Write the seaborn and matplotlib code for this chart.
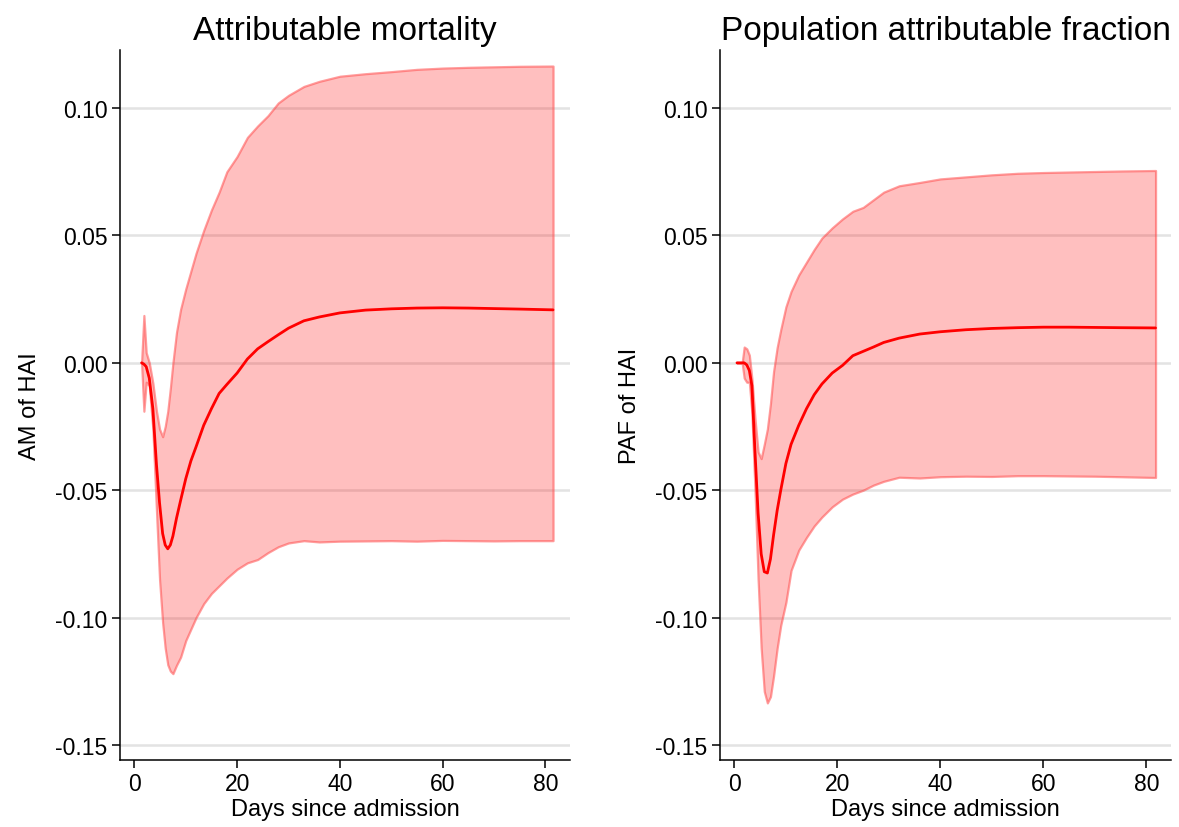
import numpy as np
import pandas as pd
import matplotlib
matplotlib.use("Agg")
import matplotlib.pyplot as plt
import seaborn as sns

# ---------------- data ----------------
am_days = [1.4, 1.85, 2.3, 2.9, 3.6, 4.3, 4.9, 5.5, 6.0, 6.5, 7.0, 7.5, 8.2, 9.0, 10.0,
           11.0, 12.0, 13.5, 15, 16.5, 18, 20, 22, 24, 26, 28, 30, 33, 36, 40, 45, 50,
           55, 60, 65, 70, 75, 81.5]
am_mean = [0.0, -0.0005, -0.0015, -0.006, -0.018, -0.040, -0.055, -0.067, -0.0715, -0.073,
           -0.0715, -0.068, -0.061, -0.054, -0.0455, -0.0385, -0.033, -0.0245, -0.018,
           -0.012, -0.0085, -0.004, 0.0015, 0.0055, 0.0083, 0.011, 0.0136, 0.0165, 0.0180,
           0.0196, 0.0207, 0.0212, 0.0215, 0.0216, 0.0215, 0.0213, 0.0211, 0.0208]
am_upper = [0.0, 0.0186, 0.004, 0.000, -0.008, -0.019, -0.026, -0.029, -0.025, -0.019,
            -0.010, 0.000, 0.012, 0.021, 0.029, 0.036, 0.043, 0.052, 0.060, 0.067, 0.075,
            0.081, 0.0885, 0.093, 0.097, 0.102, 0.105, 0.1085, 0.1105, 0.1125, 0.1135,
            0.1143, 0.1152, 0.1157, 0.1160, 0.1162, 0.1164, 0.1165]
am_lower = [0.0, -0.019, -0.0076, -0.009, -0.026, -0.058, -0.085, -0.102, -0.112, -0.1185,
            -0.121, -0.122, -0.1187, -0.1155, -0.109, -0.1045, -0.100, -0.0945, -0.0905,
            -0.0875, -0.0845, -0.081, -0.0785, -0.0772, -0.0745, -0.0722, -0.0707, -0.0698,
            -0.0703, -0.0700, -0.0699, -0.0698, -0.0700, -0.0697, -0.0698, -0.0699, -0.0698,
            -0.0698]

paf_days = [0.5, 1.5, 1.9, 2.4, 2.9, 3.4, 4.0, 4.6, 5.2, 5.8, 6.4, 7.0, 7.6, 8.3, 9.0,
            10.0, 11.0, 12.5, 14, 15.5, 17, 19, 21, 23, 25, 27, 29, 32, 36, 40, 45, 50,
            55, 60, 65, 70, 75, 81.8]
paf_mean = [0.0, 0.0, 0.0, -0.0008, -0.003, -0.009, -0.035, -0.059, -0.075, -0.082,
            -0.0825, -0.077, -0.0677, -0.058, -0.050, -0.0395, -0.032, -0.0245, -0.018,
            -0.0125, -0.0083, -0.004, -0.001, 0.0028, 0.0045, 0.0062, 0.0080, 0.0097,
            0.0113, 0.0122, 0.0130, 0.0135, 0.0138, 0.0140, 0.0140, 0.0139, 0.0138, 0.0137]
paf_upper = [0.0, 0.0, 0.0062, 0.0055, 0.003, -0.0063, -0.022, -0.035, -0.0376, -0.032,
             -0.026, -0.016, -0.0035, 0.006, 0.013, 0.022, 0.028, 0.0345, 0.0395, 0.0445,
             0.049, 0.053, 0.0565, 0.0595, 0.061, 0.064, 0.067, 0.0695, 0.0708, 0.0722,
             0.0730, 0.0738, 0.0744, 0.0747, 0.0749, 0.0751, 0.0753, 0.0755]
paf_lower = [0.0, 0.0, -0.006, -0.0076, -0.0076, -0.020, -0.050, -0.085, -0.112, -0.129,
             -0.1335, -0.131, -0.123, -0.112, -0.103, -0.094, -0.0815, -0.0735, -0.0685,
             -0.064, -0.0605, -0.0565, -0.0535, -0.0515, -0.050, -0.048, -0.0465, -0.0449,
             -0.0452, -0.0447, -0.0445, -0.0446, -0.0443, -0.0443, -0.0444, -0.0445,
             -0.0447, -0.0450]

titles = ["Attributable mortality", "Population attributable fraction"]
ylabels = ["AM of HAI", "PAF of HAI"]
xlabel = "Days since admission"
yticks = [-0.15, -0.10, -0.05, 0.00, 0.05, 0.10]
xticks = [0, 20, 40, 60, 80]

# ---------------- style ----------------
sns.set_theme(style="white")
plt.rcParams["font.family"] = ["Liberation Sans", "DejaVu Sans"]
plt.rcParams["axes.unicode_minus"] = False
plt.rcParams["text.color"] = "black"
plt.rcParams["axes.labelcolor"] = "black"
plt.rcParams["xtick.color"] = "black"
plt.rcParams["ytick.color"] = "black"

fig = plt.figure(figsize=(11.79, 8.28), dpi=100)
W, H = 1179, 828
axes = [
    fig.add_axes([120 / W, 1 - 761 / H, (570 - 120) / W, (761 - 51) / H]),
    fig.add_axes([720 / W, 1 - 761 / H, (1171 - 720) / W, (761 - 51) / H]),
]

panels = [
    (am_days, am_mean, am_upper, am_lower),
    (paf_days, paf_mean, paf_upper, paf_lower),
]

for ax, (d, m, u, l), title, ylab in zip(axes, panels, titles, ylabels):
    df = pd.DataFrame({"day": d, "mean": m, "upper": u, "lower": l})
    for yt in yticks:
        ax.axhline(yt, color="#e3e3e3", lw=1.8, zorder=0)
    ax.fill_between(df["day"], df["lower"], df["upper"], facecolor=(1, 0, 0, 0.25),
                    edgecolor=(1, 0.3, 0.3, 0.55), linewidth=1.6, zorder=2)
    sns.lineplot(data=df, x="day", y="mean", ax=ax, color="red", lw=2.0, zorder=3,
                 estimator=None, sort=False)
    ax.set_xlim(-2.8, 84.8)
    ax.set_ylim(-0.1559, 0.1228)
    ax.set_xticks(xticks)
    ax.set_yticks(yticks)
    ax.set_yticklabels([f"{v:.2f}" for v in yticks])
    ax.set_xticklabels([str(v) for v in xticks])
    ax.tick_params(axis="both", which="major", direction="out", length=6, width=1.1,
                   color="black", labelcolor="black", labelsize=16.5, pad=3,
                   left=True, bottom=True)
    for s in ["top", "right"]:
        ax.spines[s].set_visible(False)
    for s in ["left", "bottom"]:
        ax.spines[s].set_color("black")
        ax.spines[s].set_linewidth(1.1)
    ax.set_xlabel(xlabel, fontsize=17, labelpad=2, color="black")
    ax.set_ylabel(ylab, fontsize=17, labelpad=10, color="black")
    ax.set_title(title, fontsize=24, pad=8, color="black")
    ax.grid(False)

fig.savefig("out.png", dpi=100)
